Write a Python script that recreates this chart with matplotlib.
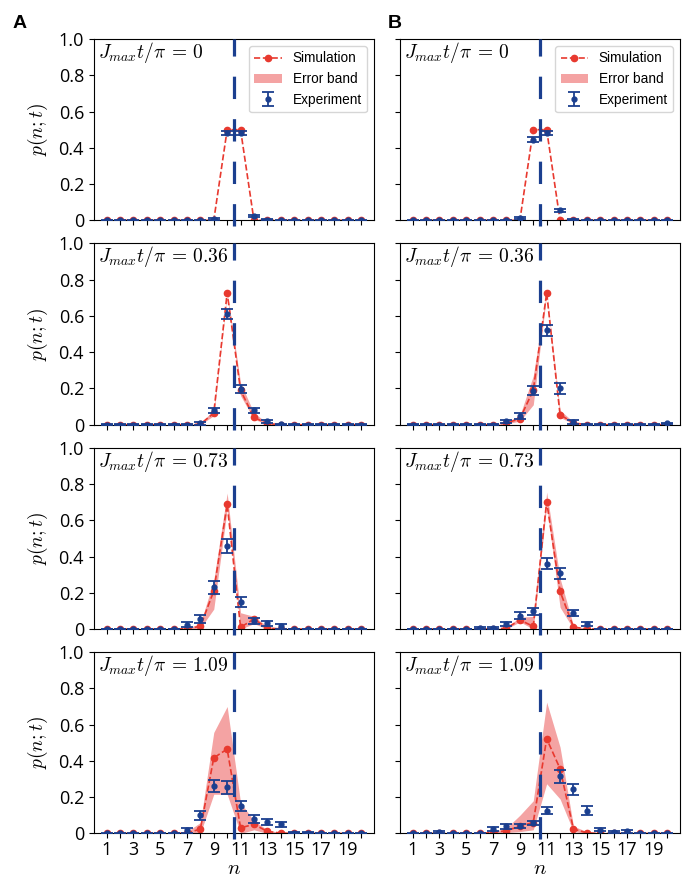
import matplotlib
matplotlib.use("Agg")
import matplotlib.pyplot as plt

N = list(range(1, 21))
TIMES = ["0", "0.36", "0.73", "1.09"]

# ---- column A ----
A0_sim = [0, 0, 0, 0, 0, 0, 0, 0, 0, 0.50, 0.50, 0, 0, 0, 0, 0, 0, 0, 0, 0]
A0_lo = [0, 0, 0, 0, 0, 0, 0, 0, 0, 0.50, 0.50, 0, 0, 0, 0, 0, 0, 0, 0, 0]
A0_hi = [0, 0, 0, 0, 0, 0, 0, 0, 0, 0.50, 0.50, 0, 0, 0, 0, 0, 0, 0, 0, 0]
A0_exp = [0, 0, 0, 0, 0, 0, 0, 0, 0.008, 0.48, 0.48, 0.024, 0.004, 0, 0, 0, 0, 0, 0, 0]
A0_err = [0.002, 0.002, 0.002, 0.002, 0.002, 0.002, 0.002, 0.002, 0.004, 0.012, 0.012, 0.006, 0.003,
          0.002, 0.002, 0.002, 0.002, 0.002, 0.002, 0.002]

A1_sim = [0, 0, 0, 0, 0, 0, 0, 0.003, 0.064, 0.727, 0.19, 0.04, 0.006, 0.001, 0, 0, 0, 0, 0, 0]
A1_lo = [0, 0, 0, 0, 0, 0, 0, 0.0, 0.05, 0.72, 0.16, 0.03, 0.003, 0, 0, 0, 0, 0, 0, 0]
A1_hi = [0, 0, 0, 0, 0, 0, 0, 0.01, 0.08, 0.735, 0.23, 0.065, 0.01, 0.002, 0, 0, 0, 0, 0, 0]
A1_exp = [0, 0, 0, 0, 0, 0, 0, 0.007, 0.079, 0.611, 0.197, 0.079, 0.018, 0.003, 0, 0, 0, 0, 0, 0]
A1_err = [0.002, 0.002, 0.002, 0.002, 0.002, 0.002, 0.002, 0.008, 0.015, 0.028, 0.022, 0.015, 0.01,
          0.003, 0.002, 0.002, 0.002, 0.002, 0.002, 0.002]

A2_sim = [0, 0, 0, 0, 0, 0, 0.002, 0.015, 0.21, 0.688, 0.01, 0.055, 0.005, 0.001, 0, 0, 0, 0, 0, 0]
A2_lo = [0, 0, 0, 0, 0, 0, 0, 0.005, 0.11, 0.66, 0.0, 0.03, 0, 0, 0, 0, 0, 0, 0, 0]
A2_hi = [0, 0, 0, 0, 0, 0, 0.005, 0.03, 0.27, 0.75, 0.09, 0.07, 0.015, 0.002, 0, 0, 0, 0, 0, 0]
A2_exp = [0, 0, 0, 0, 0, 0, 0.024, 0.055, 0.23, 0.459, 0.15, 0.046, 0.031, 0.015, 0, 0, 0, 0, 0, 0]
A2_err = [0.002, 0.002, 0.002, 0.002, 0.002, 0.002, 0.013, 0.02, 0.035, 0.04, 0.028, 0.016, 0.014,
          0.012, 0.002, 0.002, 0.002, 0.002, 0.002, 0.002]

A3_sim = [0, 0, 0, 0, 0, 0, 0.002, 0.024, 0.417, 0.465, 0.031, 0.05, 0.011, 0.002, 0, 0, 0, 0, 0, 0]
A3_lo = [0, 0, 0, 0, 0, 0, 0, 0.0, 0.216, 0.216, 0.0, 0.02, 0, 0, 0, 0, 0, 0, 0, 0]
A3_hi = [0, 0, 0, 0, 0, 0, 0.01, 0.06, 0.557, 0.70, 0.17, 0.07, 0.02, 0.003, 0, 0, 0, 0, 0, 0]
A3_exp = [0, 0, 0, 0, 0, 0, 0.018, 0.10, 0.262, 0.255, 0.151, 0.081, 0.065, 0.05, 0.005, 0.005, 0, 0, 0, 0]
A3_err = [0.002, 0.002, 0.002, 0.002, 0.002, 0.002, 0.013, 0.025, 0.035, 0.035, 0.03, 0.022, 0.016,
          0.015, 0.005, 0.005, 0.002, 0.002, 0.002, 0.002]

# ---- column B ----
B0_sim = [0, 0, 0, 0, 0, 0, 0, 0, 0, 0.50, 0.50, 0, 0, 0, 0, 0, 0, 0, 0, 0]
B0_lo = [0, 0, 0, 0, 0, 0, 0, 0, 0, 0.50, 0.50, 0, 0, 0, 0, 0, 0, 0, 0, 0]
B0_hi = [0, 0, 0, 0, 0, 0, 0, 0, 0, 0.50, 0.50, 0, 0, 0, 0, 0, 0, 0, 0, 0]
B0_exp = [0, 0, 0, 0, 0, 0, 0, 0, 0.011, 0.445, 0.48, 0.055, 0.004, 0, 0, 0, 0, 0, 0, 0]
B0_err = [0.002, 0.002, 0.002, 0.002, 0.002, 0.002, 0.002, 0.002, 0.005, 0.012, 0.012, 0.008, 0.003,
          0.002, 0.002, 0.002, 0.002, 0.002, 0.002, 0.002]

B1_sim = [0, 0, 0, 0, 0, 0, 0, 0.01, 0.033, 0.19, 0.727, 0.055, 0.01, 0, 0, 0, 0, 0, 0, 0]
B1_lo = [0, 0, 0, 0, 0, 0, 0, 0.005, 0.02, 0.11, 0.72, 0.04, 0.005, 0, 0, 0, 0, 0, 0, 0]
B1_hi = [0, 0, 0, 0, 0, 0, 0, 0.015, 0.05, 0.27, 0.735, 0.08, 0.015, 0, 0, 0, 0, 0, 0, 0]
B1_exp = [0, 0, 0, 0, 0, 0, 0, 0.018, 0.048, 0.187, 0.52, 0.20, 0.015, 0, 0, 0, 0, 0, 0, 0.007]
B1_err = [0.002, 0.002, 0.002, 0.002, 0.002, 0.002, 0.002, 0.01, 0.015, 0.025, 0.03, 0.028, 0.01,
          0.002, 0.002, 0.002, 0.002, 0.002, 0.002, 0.005]

B2_sim = [0, 0, 0, 0, 0, 0, 0, 0.005, 0.05, 0.015, 0.703, 0.208, 0.011, 0.001, 0, 0, 0, 0, 0, 0]
B2_lo = [0, 0, 0, 0, 0, 0, 0, 0, 0.04, 0.0, 0.68, 0.12, 0.0, 0, 0, 0, 0, 0, 0, 0]
B2_hi = [0, 0, 0, 0, 0, 0, 0, 0.01, 0.065, 0.07, 0.755, 0.28, 0.02, 0.002, 0, 0, 0, 0, 0, 0]
B2_exp = [0, 0, 0, 0, 0, 0.005, 0.005, 0.028, 0.074, 0.098, 0.36, 0.307, 0.088, 0.028, 0, 0, 0, 0, 0, 0]
B2_err = [0.002, 0.002, 0.002, 0.002, 0.002, 0.004, 0.004, 0.013, 0.018, 0.02, 0.03, 0.03, 0.018,
          0.012, 0.002, 0.002, 0.002, 0.002, 0.002, 0.002]

B3_sim = [0, 0, 0, 0, 0, 0, 0.005, 0.015, 0.04, 0.06, 0.522, 0.357, 0.024, 0.003, 0, 0, 0, 0, 0, 0]
B3_lo = [0, 0, 0, 0, 0, 0, 0, 0.005, 0.01, 0.02, 0.274, 0.19, 0.01, 0, 0, 0, 0, 0, 0, 0]
B3_hi = [0, 0, 0, 0, 0, 0, 0.01, 0.03, 0.10, 0.18, 0.724, 0.476, 0.04, 0.01, 0, 0, 0, 0, 0, 0]
B3_exp = [0, 0, 0.007, 0, 0, 0, 0.024, 0.04, 0.04, 0.059, 0.125, 0.314, 0.244, 0.125, 0.02, 0.01, 0.013, 0, 0, 0]
B3_err = [0.002, 0.002, 0.006, 0.002, 0.002, 0.002, 0.013, 0.013, 0.01, 0.012, 0.02, 0.035, 0.03,
          0.025, 0.008, 0.006, 0.008, 0.002, 0.002, 0.002]

COLUMNS = [
    [(A0_sim, A0_lo, A0_hi, A0_exp, A0_err), (A1_sim, A1_lo, A1_hi, A1_exp, A1_err),
     (A2_sim, A2_lo, A2_hi, A2_exp, A2_err), (A3_sim, A3_lo, A3_hi, A3_exp, A3_err)],
    [(B0_sim, B0_lo, B0_hi, B0_exp, B0_err), (B1_sim, B1_lo, B1_hi, B1_exp, B1_err),
     (B2_sim, B2_lo, B2_hi, B2_exp, B2_err), (B3_sim, B3_lo, B3_hi, B3_exp, B3_err)],
]

RED = '#e8392f'
BAND = '#f4a3a3'
BLUE = '#1b3f8f'
TICK_FONT = 'Open Sans'

plt.rcParams['mathtext.fontset'] = 'cm'


def draw_panel(ax, data, time_label, show_legend):
    sim, lo, hi, exp, err = data
    band = ax.fill_between(N, lo, hi, color=BAND, linewidth=0, label='Error band', zorder=1)
    line, = ax.plot(N, sim, color=RED, linestyle='--', linewidth=1.2, marker='o', markersize=4.5,
                    label='Simulation', zorder=2)
    ebar = ax.errorbar(N, exp, yerr=err, fmt='o', color=BLUE, markersize=3.5, elinewidth=1.3,
                       capsize=4, capthick=1.3, label='Experiment', zorder=3)
    ax.axvline(10.5, ymin=-0.03, ymax=1.0, color=BLUE, linewidth=2.3, dashes=(7, 6.3),
               clip_on=False, zorder=4)

    ax.set_xlim(0.05, 20.95)
    ax.set_ylim(0, 1.0)
    ax.set_xticks(N)
    ax.set_yticks([0, 0.2, 0.4, 0.6, 0.8, 1.0])
    ax.tick_params(direction='out', length=3.5, width=0.8)
    ax.tick_params(axis='x', pad=2)

    ax.text(0.015, 0.925, r'$J_{max}t/\pi\,=\,%s$' % time_label, transform=ax.transAxes,
            fontsize=14, va='center', ha='left')

    if show_legend:
        ax.legend([line, band, ebar], ['Simulation', 'Error band', 'Experiment'],
                  loc='upper right', handlelength=2.0,
                  prop={'family': 'Liberation Sans', 'size': 9.8})


def main():
    fig, axes = plt.subplots(4, 2, figsize=(6.9, 8.81), dpi=100)
    fig.subplots_adjust(left=0.136, right=0.9855, top=0.9557, bottom=0.054,
                        wspace=0.093, hspace=0.127)

    for col in range(2):
        for row in range(4):
            ax = axes[row, col]
            draw_panel(ax, COLUMNS[col][row], TIMES[row], row == 0)

            if col == 0:
                ax.set_yticklabels(['0', '0.2', '0.4', '0.6', '0.8', '1.0'],
                                   fontfamily=TICK_FONT, fontsize=13)
                ax.set_ylabel(r'$p(n;t)$', fontsize=14, labelpad=6)
            else:
                ax.set_yticklabels([])

            if row == 3:
                ax.set_xticklabels([str(n) if n % 2 == 1 else '' for n in N],
                                   fontfamily=TICK_FONT, fontsize=13)
                ax.set_xlabel(r'$n$', fontsize=15, labelpad=-1)
            else:
                ax.set_xticklabels([])

    fig.text(0.018, 0.973, 'A', fontsize=14, fontweight='bold', fontfamily='Liberation Sans',
             ha='left', va='center')
    fig.text(0.562, 0.973, 'B', fontsize=14, fontweight='bold', fontfamily='Liberation Sans',
             ha='left', va='center')

    plt.savefig('out.png')
    plt.close()


if __name__ == "__main__":
    main()
